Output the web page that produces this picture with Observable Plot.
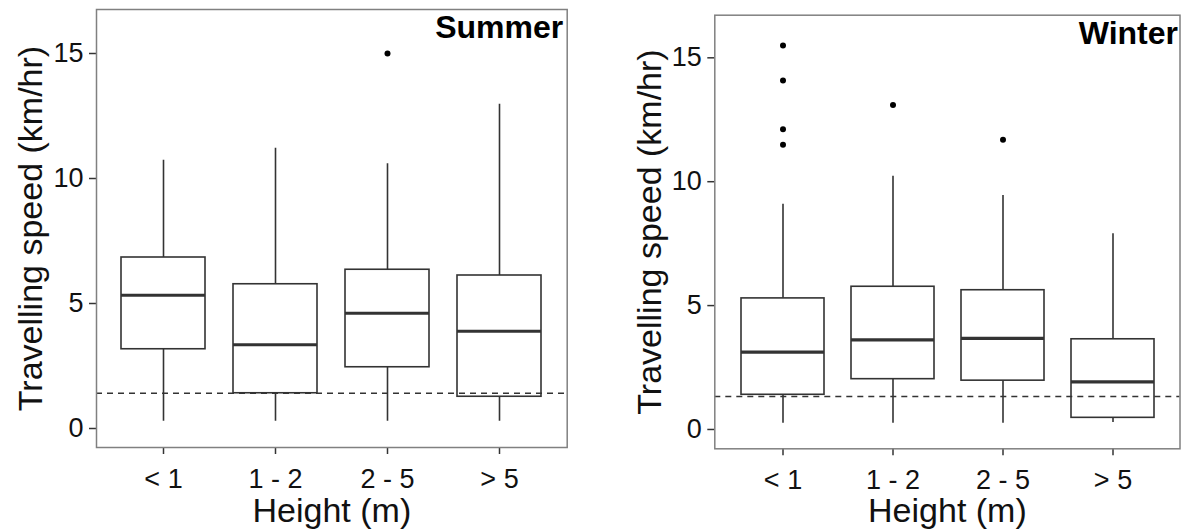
<!DOCTYPE html>
<html>
<head>
<meta charset="utf-8">
<script src="https://cdn.jsdelivr.net/npm/d3@7"></script>
<script src="https://cdn.jsdelivr.net/npm/@observablehq/plot@0.6"></script>
<style>
  html, body { margin: 0; padding: 0; background: white; }
  #wrap { position: relative; width: 1182px; height: 531px; overflow: hidden; background: white; }
  #wrap svg { position: absolute; top: 0; }
</style>
</head>
<body>
<div id="wrap"></div>
<script>
// ---- data ----
const categories = ["< 1", "1 - 2", "2 - 5", "> 5"];
const yTicks = [0, 5, 10, 15];

const summerLow    = [0.29, 0.29, 0.29, 0.29];
const summerQ1     = [3.17, 1.41, 2.45, 1.27];
const summerMedian = [5.33, 3.35, 4.61, 3.89];
const summerQ3     = [6.84, 5.77, 6.35, 6.12];
const summerHigh   = [10.73, 11.21, 10.59, 12.97];
const summerOutlierCat = ["2 - 5"];
const summerOutlierVal = [15.0];
const summerThreshold = 1.41;

const winterLow    = [0.25, 0.25, 0.25, 0.28];
const winterQ1     = [1.40, 2.03, 1.97, 0.47];
const winterMedian = [3.12, 3.62, 3.68, 1.92];
const winterQ3     = [5.29, 5.76, 5.62, 3.64];
const winterHigh   = [9.09, 10.22, 9.44, 7.90];
const winterOutlierCat = ["< 1", "< 1", "< 1", "< 1", "1 - 2", "2 - 5"];
const winterOutlierVal = [15.50, 14.08, 12.12, 11.49, 13.10, 11.69];
const winterThreshold = 1.33;

const yTitle = "Travelling speed (km/hr)";
const xTitle = "Height (m)";

function panel(o) {
  const rows = categories.map((c, i) => ({cat: c, low: o.low[i], q1: o.q1[i], med: o.med[i], q3: o.q3[i], high: o.high[i]}));
  const outs = o.oCat.map((c, i) => ({cat: c, v: o.oVal[i]}));
  const ink = "#333333";
  return Plot.plot({
    width: o.width, height: 531,
    marginLeft: o.ml, marginRight: o.mr, marginTop: o.mt, marginBottom: o.mb,
    x: {type: "band", domain: categories, paddingInner: 0.25, paddingOuter: 0.225},
    y: {domain: o.domain},
    style: {fontFamily: "'Liberation Sans', Arial, sans-serif", background: "white", color: "#111", overflow: "visible"},
    marks: [
      Plot.axisY({ticks: yTicks, tickSize: 7, tickPadding: 6, fontSize: 27, label: null, stroke: ink, strokeWidth: 1.5, fill: "#111"}),
      Plot.axisX({tickSize: 7, tickPadding: 14, fontSize: 27, label: null, stroke: ink, strokeWidth: 1.5, fill: "#111"}),
      Plot.ruleX(rows, {x: "cat", y1: "low", y2: "q1", stroke: ink, strokeWidth: 1.6}),
      Plot.ruleX(rows, {x: "cat", y1: "q3", y2: "high", stroke: ink, strokeWidth: 1.6}),
      Plot.barY(rows, {x: "cat", y1: "q1", y2: "q3", fill: "white", stroke: ink, strokeWidth: 1.6, inset: 0}),
      Plot.tickY(rows, {x: "cat", y: "med", stroke: ink, strokeWidth: 3.2}),
      Plot.dot(outs, {x: "cat", y: "v", r: 3, fill: "black", stroke: "none"}),
      Plot.ruleY([o.threshold], {stroke: ink, strokeWidth: 1.4, strokeDasharray: "6,5"}),
      Plot.frame({stroke: "#808080", strokeWidth: 1.5}),
      Plot.text([yTitle], {text: d => d, frameAnchor: "left", dx: -65, rotate: -90, textAnchor: "middle", lineAnchor: "middle", fontSize: 34, fill: "#111"}),
      Plot.text([xTitle], {text: d => d, frameAnchor: "bottom", dy: o.xdy, textAnchor: "middle", lineAnchor: "top", fontSize: 34, fill: "#111"}),
      Plot.text([o.title], {text: d => d, frameAnchor: "top-right", textAnchor: "end", lineAnchor: "top", dx: o.tdx, dy: o.tdy, fontSize: 32, fontWeight: "bold", fill: "black"})
    ]
  });
}

const wrap = document.getElementById("wrap");

const left = panel({
  low: summerLow, q1: summerQ1, med: summerMedian, q3: summerQ3, high: summerHigh,
  oCat: summerOutlierCat, oVal: summerOutlierVal, threshold: summerThreshold,
  title: "Summer", domain: [-0.76, 16.76],
  width: 590, ml: 96, mr: 23.3, mt: 9, mb: 84, xdy: 50, tdx: -4, tdy: 6
});
left.style.left = "0px";
wrap.appendChild(left);

const right = panel({
  low: winterLow, q1: winterQ1, med: winterMedian, q3: winterQ3, high: winterHigh,
  oCat: winterOutlierCat, oVal: winterOutlierVal, threshold: winterThreshold,
  title: "Winter", domain: [-0.78, 16.72],
  width: 592, ml: 124.3, mr: 2.5, mt: 14.7, mb: 82.7, xdy: 49, tdx: -2, tdy: 6
});
right.style.left = "590px";
wrap.appendChild(right);
</script>
</body>
</html>
